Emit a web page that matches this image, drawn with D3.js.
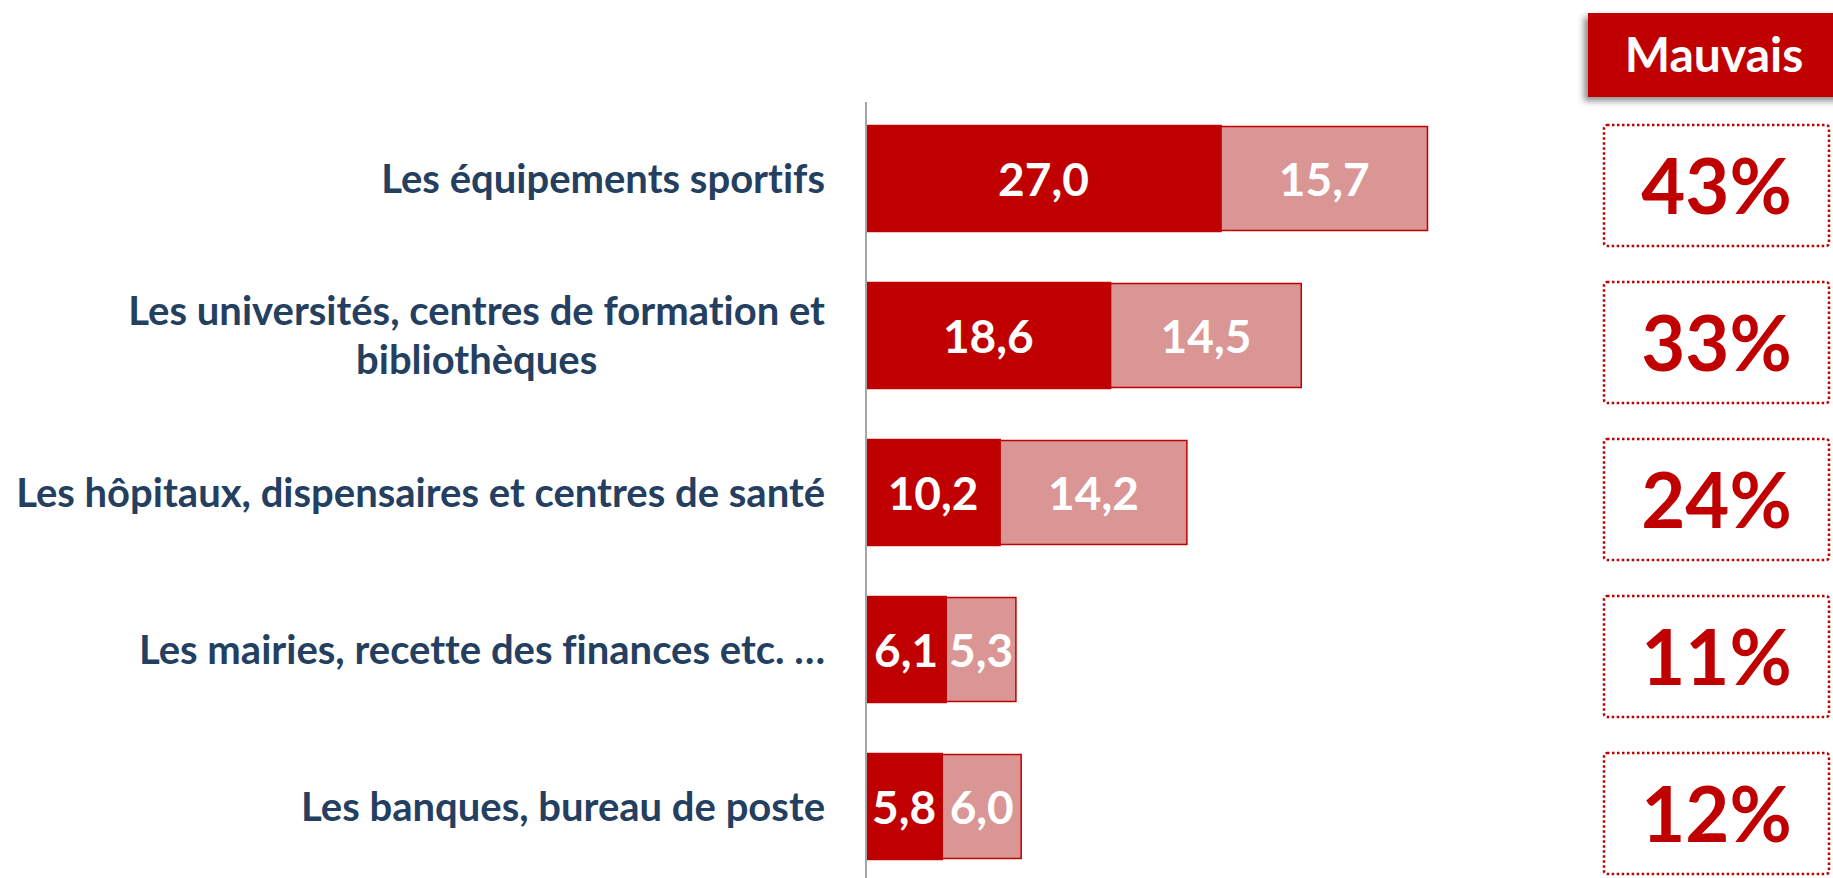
<!DOCTYPE html>
<html>
<head>
<meta charset="utf-8">
<script src="https://cdn.jsdelivr.net/npm/d3@7"></script>
<style>
  html, body { margin: 0; padding: 0; background: #fff; }
  svg text { font-family: Lato, "Open Sans", sans-serif; font-weight: bold; font-variant-ligatures: none; }
</style>
</head>
<body>
<div id="chart"></div>
<script>
/* ---- data ---- */
var categories = [
  ["Les équipements sportifs"],
  ["Les universités, centres de formation et", "bibliothèques"],
  ["Les hôpitaux, dispensaires et centres de santé"],
  ["Les mairies, recette des finances etc. …"],
  ["Les banques, bureau de poste"]
];
var tresMauvais = [27.0, 18.6, 10.2, 6.1, 5.8];
var plutotMauvais = [15.7, 14.5, 14.2, 5.3, 6.0];
var totalMauvais = ["43%", "33%", "24%", "11%", "12%"];
var headerLabel = "Mauvais";

var w = 1833,
	h = 878;

var darkRed = "#C00000",
	lightRed = "#D99694",
	labelColor = "#243F60";

var svg = d3.select("#chart")
	.append("svg")
	.attr("width", w)
	.attr("height", h);

var defs = svg.append("defs");
defs.append("filter")
	.attr("id", "shadow")
	.attr("x", "-20%").attr("y", "-30%")
	.attr("width", "140%").attr("height", "160%")
	.append("feDropShadow")
	.attr("dx", -4).attr("dy", 4)
	.attr("stdDeviation", 3)
	.attr("flood-color", "#000")
	.attr("flood-opacity", 0.45);

var rows = categories.map(function(c, i) {
	return { label: c, dark: tresMauvais[i], light: plutotMauvais[i], total: totalMauvais[i] };
});

// scales
var axisX = 866;
var x = d3.scaleLinear()
	.domain([0, 45])
	.range([axisX, axisX + 45 * 13.15]);

var y = d3.scaleBand()
	.domain(d3.range(rows.length))
	.range([100, 885])
	.paddingInner(0.325)
	.paddingOuter(0.1625);

var fmt = function(v) { return d3.format(".1f")(v).replace(".", ","); };

// bars
var bar = svg.selectAll("g.row")
	.data(rows)
	.enter()
	.append("g")
	.classed("row", true);

bar.append("rect")
	.attr("x", x(0))
	.attr("y", function(d, i) { return y(i); })
	.attr("width", function(d) { return x(d.dark) - x(0); })
	.attr("height", y.bandwidth())
	.style("fill", darkRed)
	.style("stroke", darkRed)
	.style("stroke-width", 1.5);

bar.append("rect")
	.attr("x", function(d) { return x(d.dark); })
	.attr("y", function(d, i) { return y(i) + 1; })
	.attr("width", function(d) { return x(d.dark + d.light) - x(d.dark); })
	.attr("height", y.bandwidth() - 2)
	.style("fill", lightRed)
	.style("stroke", darkRed)
	.style("stroke-width", 1.5);

bar.append("text")
	.attr("x", function(d) { return (x(0) + x(d.dark)) / 2; })
	.attr("y", function(d, i) { return y(i) + y.bandwidth() / 2 + 17; })
	.attr("text-anchor", "middle")
	.style("font-size", "46px")
	.style("fill", "#fff")
	.text(function(d) { return fmt(d.dark); });

bar.append("text")
	.attr("x", function(d) { return (x(d.dark) + x(d.dark + d.light)) / 2; })
	.attr("y", function(d, i) { return y(i) + y.bandwidth() / 2 + 17; })
	.attr("text-anchor", "middle")
	.style("font-size", "46px")
	.style("fill", "#fff")
	.text(function(d) { return fmt(d.light); });

// vertical axis line
svg.append("line")
	.attr("x1", axisX).attr("x2", axisX)
	.attr("y1", 102).attr("y2", h)
	.style("stroke", "#A6A6A6")
	.style("stroke-width", 2);

// category labels
var labelRight = 825;
bar.each(function(d, i) {
	var g = d3.select(this);
	var cy = y(i) + y.bandwidth() / 2;
	var lines = d.label;
	var lh = 49;
	var t = g.append("text")
		.style("font-size", "40px")
		.style("fill", labelColor);
	if (lines.length === 1) {
		t.attr("x", labelRight)
			.attr("y", cy + 14)
			.attr("text-anchor", "end")
			.text(lines[0]);
	} else {
		t.attr("text-anchor", "middle");
		var spans = lines.map(function(l, k) {
			return t.append("tspan")
				.attr("y", cy + 14 + (k - (lines.length - 1) / 2) * lh)
				.text(l);
		});
		var w0 = spans[0].node().getComputedTextLength();
		spans.forEach(function(s) { s.attr("x", labelRight - w0 / 2); });
	}
});

// right panel
var boxX = 1604, boxW = 225, boxH = 121;
var cx = boxX + boxW / 2;

svg.append("rect")
	.attr("x", 1588).attr("y", 13)
	.attr("width", 260).attr("height", 84)
	.style("fill", darkRed)
	.attr("filter", "url(#shadow)");

svg.append("text")
	.attr("x", 1714).attr("y", 72)
	.attr("text-anchor", "middle")
	.style("font-size", "48px")
	.style("fill", "#fff")
	.text(headerLabel);

var box = svg.selectAll("g.box")
	.data(rows)
	.enter()
	.append("g")
	.classed("box", true);

box.append("rect")
	.attr("x", boxX)
	.attr("y", function(d, i) { return y(i) + y.bandwidth() / 2 - boxH / 2 + 7; })
	.attr("width", boxW)
	.attr("height", boxH)
	.attr("rx", 3)
	.style("fill", "none")
	.style("stroke", darkRed)
	.style("stroke-width", 2.5)
	.style("stroke-dasharray", "2.5,2.5");

box.append("text")
	.attr("x", cx)
	.attr("y", function(d, i) { return y(i) + y.bandwidth() / 2 + 7 + 28; })
	.attr("text-anchor", "middle")
	.style("font-size", "76px")
	.style("fill", darkRed)
	.text(function(d) { return d.total; });
</script>
</body>
</html>
